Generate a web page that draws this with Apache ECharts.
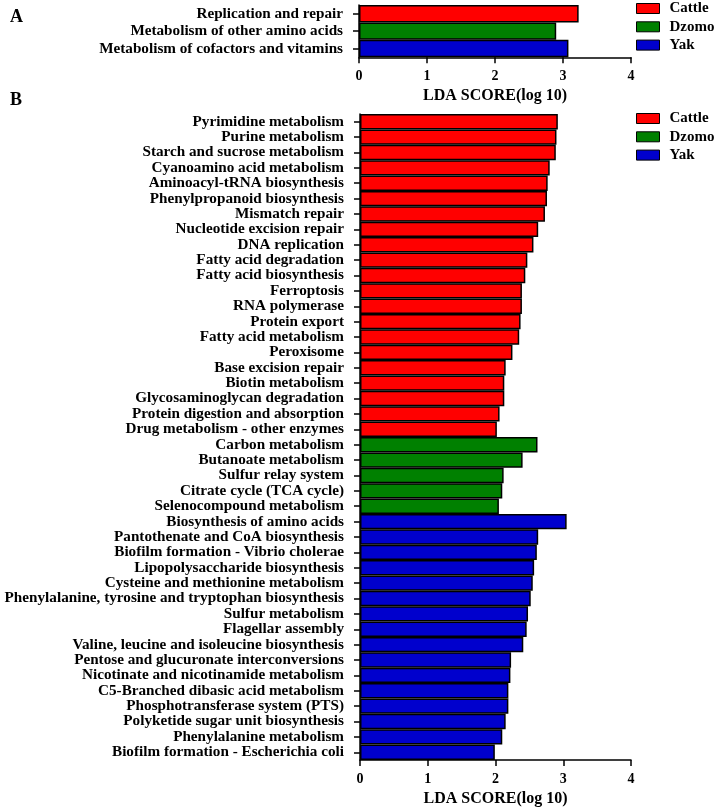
<!DOCTYPE html>
<html>
<head>
<meta charset="utf-8">
<script src="https://cdn.jsdelivr.net/npm/echarts@6/dist/echarts.min.js"></script>
<style>
html,body{margin:0;padding:0;background:#fff;}
#main{width:715px;height:808px;}
</style>
</head>
<body>
<div id="main"></div>
<script>
// ---- Data ----
var groups = ['Cattle', 'Dzomo', 'Yak'];
var groupColors = ['#FF0000', '#008000', '#0000CD'];

var catA = ['Replication and repair', 'Metabolism of other amino acids', 'Metabolism of cofactors and vitamins'];
var valA = [3.23, 2.90, 3.08];
var grpA = ['Cattle', 'Dzomo', 'Yak'];

var catB = [
  'Pyrimidine metabolism', 'Purine metabolism', 'Starch and sucrose metabolism', 'Cyanoamino acid metabolism',
  'Aminoacyl-tRNA biosynthesis', 'Phenylpropanoid biosynthesis', 'Mismatch repair', 'Nucleotide excision repair',
  'DNA replication', 'Fatty acid degradation', 'Fatty acid biosynthesis', 'Ferroptosis', 'RNA polymerase',
  'Protein export', 'Fatty acid metabolism', 'Peroxisome', 'Base excision repair', 'Biotin metabolism',
  'Glycosaminoglycan degradation', 'Protein digestion and absorption', 'Drug metabolism - other enzymes',
  'Carbon metabolism', 'Butanoate metabolism', 'Sulfur relay system', 'Citrate cycle (TCA cycle)',
  'Selenocompound metabolism',
  'Biosynthesis of amino acids', 'Pantothenate and CoA biosynthesis', 'Biofilm formation - Vibrio cholerae',
  'Lipopolysaccharide biosynthesis', 'Cysteine and methionine metabolism',
  'Phenylalanine, tyrosine and tryptophan biosynthesis', 'Sulfur metabolism', 'Flagellar assembly',
  'Valine, leucine and isoleucine biosynthesis', 'Pentose and glucuronate interconversions',
  'Nicotinate and nicotinamide metabolism', 'C5-Branched dibasic acid metabolism',
  'Phosphotransferase system (PTS)', 'Polyketide sugar unit biosynthesis', 'Phenylalanine metabolism',
  'Biofilm formation - Escherichia coli'
];
var valB = [
  2.92, 2.90, 2.89, 2.80, 2.77, 2.76, 2.73, 2.63, 2.56, 2.47, 2.44, 2.39, 2.39, 2.37, 2.35, 2.25, 2.15, 2.13,
  2.13, 2.06, 2.02,
  2.62, 2.40, 2.12, 2.10, 2.05,
  3.05, 2.63, 2.61, 2.57, 2.55, 2.52, 2.48, 2.46, 2.41, 2.23, 2.22, 2.19, 2.19, 2.15, 2.10, 1.99
];
var grpB = [];
(function(){
  var counts = [21, 5, 16];
  for (var g = 0; g < 3; g++) for (var i = 0; i < counts[g]; i++) grpB.push(groups[g]);
})();

var xTicks = [0, 1, 2, 3, 4];

// ---- Build ----
var FONT = '"Liberation Serif", "Times New Roman", serif';

function seriesFor(vals, grps, gridIdx) {
  return groups.map(function (g, gi) {
    return {
      name: g,
      type: 'bar',
      xAxisIndex: gridIdx,
      yAxisIndex: gridIdx,
      barGap: '-100%',
      barCategoryGap: 0,
      itemStyle: { color: groupColors[gi], borderColor: '#000', borderWidth: 1.5 },
      data: vals.map(function (v, i) { return grps[i] === g ? v : '-'; }),
      silent: true,
      animation: false
    };
  });
}

function xAxisFor(gridIdx) {
  return {
    type: 'value', gridIndex: gridIdx, min: xTicks[0], max: xTicks[xTicks.length - 1], interval: 1,
    name: 'LDA SCORE(log 10)', nameLocation: 'middle', nameGap: 31,
    nameTextStyle: { fontFamily: FONT, fontWeight: 'bold', fontSize: 16, color: '#000' },
    axisLine: { show: true, lineStyle: { color: '#000', width: 1.5 } },
    axisTick: { show: true, length: 6, lineStyle: { color: '#000', width: 1.5 } },
    axisLabel: { fontFamily: FONT, fontWeight: 'bold', fontSize: 14, color: '#000', margin: 12 },
    splitLine: { show: false }
  };
}
function yAxisFor(gridIdx, cats) {
  return {
    type: 'category', gridIndex: gridIdx, data: cats, inverse: true,
    axisLine: { show: true, lineStyle: { color: '#000', width: 1.5 } },
    axisTick: { show: true, length: 6, alignWithLabel: true, lineStyle: { color: '#000', width: 1.5 } },
    axisLabel: { fontFamily: FONT, fontWeight: 'bold', fontSize: 15.2, color: '#000', margin: 16, interval: 0 },
    splitLine: { show: false }
  };
}
function legendFor(top) {
  return {
    data: groups, orient: 'vertical', left: 636, top: top, padding: 0,
    icon: 'rect', itemWidth: 23, itemHeight: 10, itemGap: 3.3,
    itemStyle: { borderColor: '#000', borderWidth: 1 },
    textStyle: { fontFamily: FONT, fontWeight: 'bold', fontSize: 15, color: '#000', padding: [2, 0, 0, 5] },
    selectedMode: false
  };
}

var chart = echarts.init(document.getElementById('main'), null, { renderer: 'canvas' });
chart.setOption({
  backgroundColor: '#fff',
  animation: false,
  title: [
    { text: 'A', left: 10, top: 8, padding: 0, textStyle: { fontFamily: FONT, fontWeight: 'bold', fontSize: 18, color: '#000' } },
    { text: 'B', left: 10, top: 91, padding: 0, textStyle: { fontFamily: FONT, fontWeight: 'bold', fontSize: 18, color: '#000' } }
  ],
  legend: [legendFor(1), legendFor(111)],
  grid: [
    { left: 359, right: 84, top: 5, height: 52.3, containLabel: false, outerBoundsMode: 'none' },
    { left: 360, right: 84, top: 114, height: 646, containLabel: false, outerBoundsMode: 'none' }
  ],
  xAxis: [xAxisFor(0), xAxisFor(1)],
  yAxis: [yAxisFor(0, catA), yAxisFor(1, catB)],
  series: seriesFor(valA, grpA, 0).concat(seriesFor(valB, grpB, 1))
});
</script>
</body>
</html>
